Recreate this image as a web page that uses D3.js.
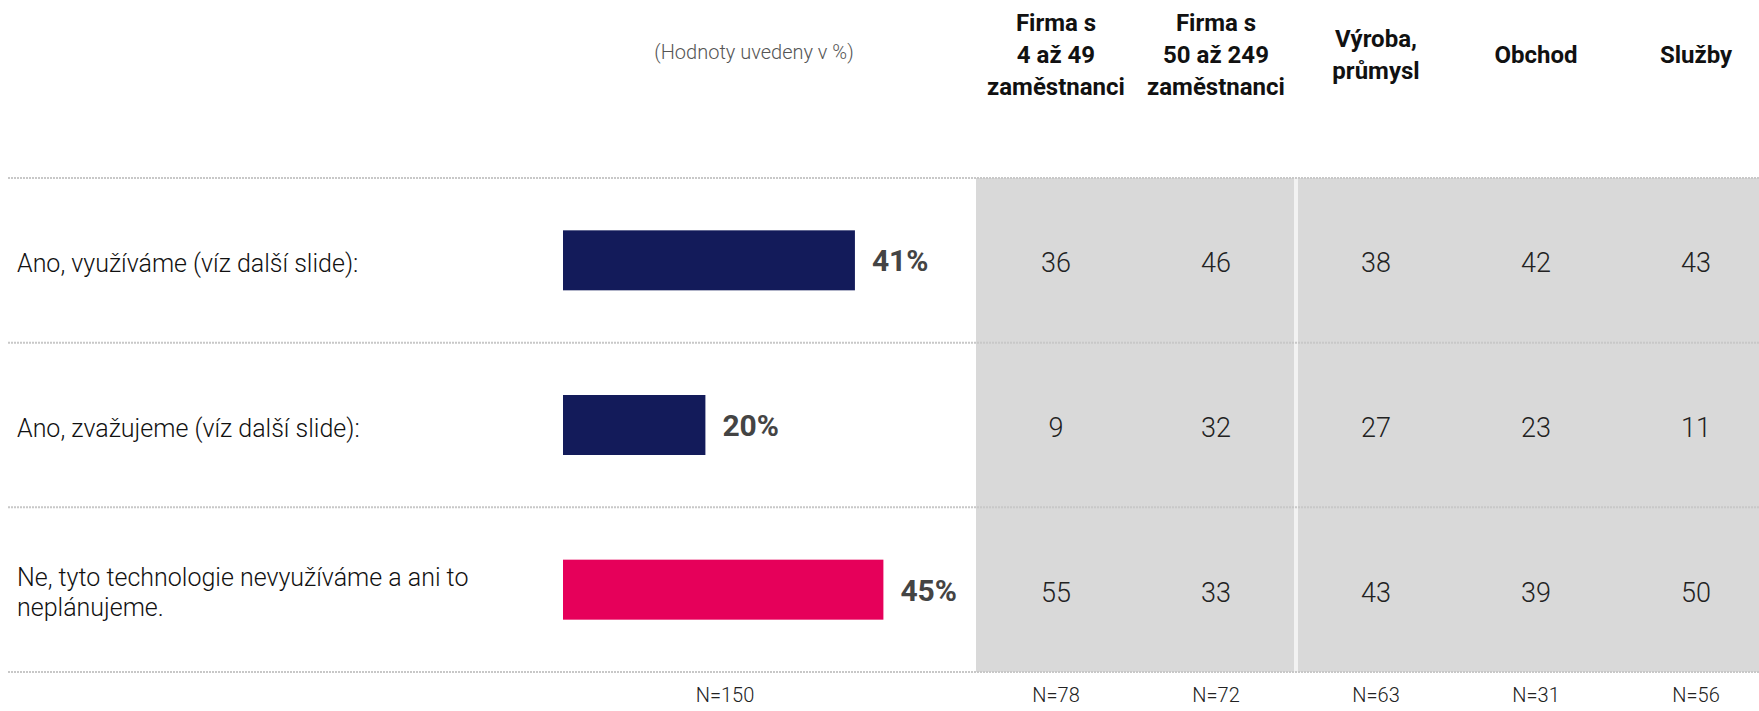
<!DOCTYPE html>
<html>
<head>
<meta charset="utf-8">
<script src="https://cdn.jsdelivr.net/npm/d3@7"></script>
<style>
  body { margin: 0; background: #fff; }
  svg { display: block; font-family: Roboto, "Noto Sans", sans-serif; }
</style>
</head>
<body>
<svg id="chart"></svg>
<script>
// data
const answers = [
  ["Ano, využíváme (víz další slide):"],
  ["Ano, zvažujeme (víz další slide):"],
  ["Ne, tyto technologie nevyužíváme a ani to", "neplánujeme."]
];
const totals = [41, 20, 45];
const barColors = ["#131b5a", "#131b5a", "#e6005a"];
const groups = [
  ["Firma s", "4 až 49", "zaměstnanci"],
  ["Firma s", "50 až 249", "zaměstnanci"],
  ["Výroba,", "průmysl"],
  ["Obchod"],
  ["Služby"]
];
const groupValues = [
  [36, 46, 38, 42, 43],
  [9, 32, 27, 23, 11],
  [55, 33, 43, 39, 50]
];
const totalN = "N=150";
const groupN = ["N=78", "N=72", "N=63", "N=31", "N=56"];
const note = "(Hodnoty uvedeny v %)";

const W = 1759, H = 711;
const svg = d3.select("#chart").attr("width", W).attr("height", H);

const rowTop = 178, rowBottom = 672;
const y = d3.scaleBand().domain(d3.range(answers.length)).range([rowTop, rowBottom]);
const x = d3.scaleLinear().domain([0, 100]).range([563, 563 + 712]);
const col = d3.scaleBand().domain(d3.range(groups.length)).range([976, 976 + 160 * groups.length]);

// gray table panel
svg.append("rect")
  .attr("x", col(0)).attr("y", rowTop)
  .attr("width", W - col(0)).attr("height", rowBottom - rowTop)
  .attr("fill", "#d9d9d9");
// white separator between size and sector groups
svg.append("rect")
  .attr("x", col(2) - 2).attr("y", rowTop)
  .attr("width", 4).attr("height", rowBottom - rowTop)
  .attr("fill", "#f2f2f2");

// dotted separators
const lines = d3.range(answers.length + 1).map(i => i < answers.length ? y(i) : rowBottom);
svg.selectAll("line.sep").data(lines).join("line")
  .attr("class", "sep")
  .attr("x1", 8).attr("x2", W)
  .attr("y1", d => d).attr("y2", d => d)
  .attr("stroke", "#c8c8c8").attr("stroke-width", 2)
  .attr("stroke-dasharray", "2,1");

// note
svg.append("text")
  .attr("x", 754).attr("y", 54)
  .attr("text-anchor", "middle").attr("dominant-baseline", "middle")
  .attr("font-size", 20).attr("font-weight", 300).attr("fill", "#555")
  .text(note);

// column headers
const hdr = svg.selectAll("text.hdr").data(groups).join("text")
  .attr("class", "hdr")
  .attr("text-anchor", "middle")
  .attr("font-size", 24).attr("font-weight", 700).attr("fill", "#111");
hdr.each(function(lns, i) {
  const cx = col(i) + col.bandwidth() / 2;
  const lh = 32;
  const y0 = 57 - (lns.length - 1) * lh / 2;
  d3.select(this).selectAll("tspan").data(lns).join("tspan")
    .attr("x", cx).attr("y", (d, j) => y0 + j * lh)
    .attr("dominant-baseline", "middle")
    .text(d => d);
});

// row centres; text sits a little lower to centre cap height
const rc = i => y(i) + y.bandwidth() / 2;
const tc = i => rc(i) + 5;

// row labels
svg.selectAll("text.lbl").data(answers).join("text")
  .attr("class", "lbl")
  .attr("font-size", 25).attr("font-weight", 300).attr("fill", "#111")
  .each(function(lns, i) {
    const lh = 30;
    const y0 = tc(i) - (lns.length - 1) * lh / 2;
    d3.select(this).selectAll("tspan").data(lns).join("tspan")
      .attr("x", 17).attr("y", (d, j) => y0 + j * lh)
      .attr("dominant-baseline", "middle")
      .text(d => d);
  });

// bars
const barH = 60;
svg.selectAll("rect.bar").data(totals).join("rect")
  .attr("class", "bar")
  .attr("x", x(0)).attr("y", (d, i) => rc(i) - barH / 2)
  .attr("width", d => x(d) - x(0)).attr("height", barH)
  .attr("fill", (d, i) => barColors[i]);

svg.selectAll("text.val").data(totals).join("text")
  .attr("class", "val")
  .attr("x", d => x(d) + 17).attr("y", (d, i) => rc(i) + 3)
  .attr("dominant-baseline", "middle")
  .attr("font-size", 30).attr("font-weight", 700).attr("fill", "#444")
  .text(d => d + "%");

// table values
groupValues.forEach((row, i) => {
  svg.selectAll("text.cell" + i).data(row).join("text")
    .attr("class", "cell" + i)
    .attr("x", (d, j) => col(j) + col.bandwidth() / 2)
    .attr("y", tc(i))
    .attr("text-anchor", "middle").attr("dominant-baseline", "middle")
    .attr("font-size", 27).attr("font-weight", 300).attr("fill", "#222")
    .text(d => d);
});

// N labels
const nY = 702;
svg.append("text")
  .attr("x", 725).attr("y", nY)
  .attr("text-anchor", "middle")
  .attr("font-size", 20).attr("font-weight", 300).attr("fill", "#222")
  .text(totalN);
svg.selectAll("text.n").data(groupN).join("text")
  .attr("class", "n")
  .attr("x", (d, j) => col(j) + col.bandwidth() / 2).attr("y", nY)
  .attr("text-anchor", "middle")
  .attr("font-size", 20).attr("font-weight", 300).attr("fill", "#222")
  .text(d => d);
</script>
</body>
</html>
